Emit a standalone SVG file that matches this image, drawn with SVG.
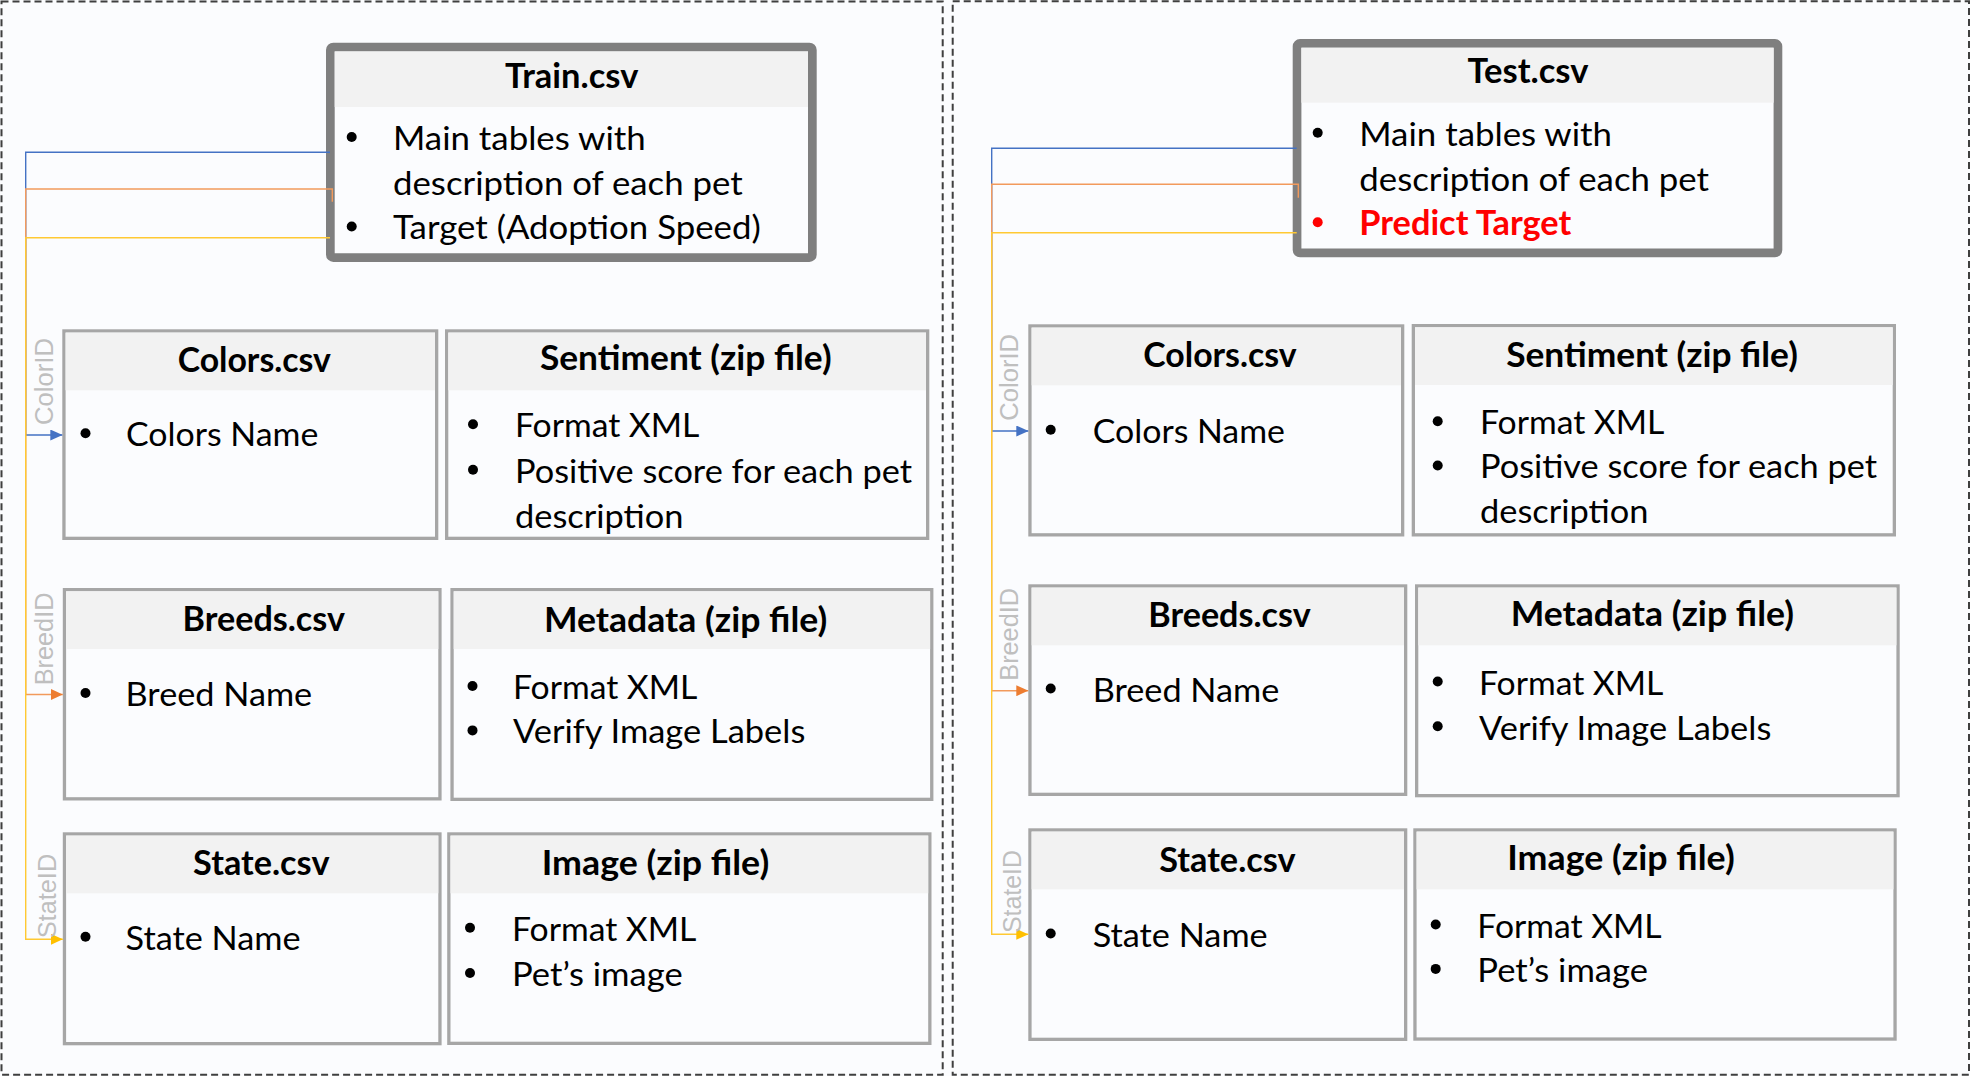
<svg xmlns="http://www.w3.org/2000/svg" width="1970" height="1076" viewBox="0 0 1970 1076">
<style>
.bg{fill:#FBFCFE}
.panel{fill:none;stroke:#3F3F3F;stroke-width:2;stroke-dasharray:7 4}
.main{fill:#FBFCFE;stroke:#7F7F7F;stroke-width:8.7}
.box{fill:#FBFCFE;stroke:#A6A6A6;stroke-width:3.3}
.hdr{fill:#F2F2F2}
.ttl{font-family:Lato,"Liberation Sans",sans-serif;font-size:33.5px;font-weight:bold;fill:#000;text-anchor:middle}
.txt{font-family:Lato,"Liberation Sans",sans-serif;font-size:33.5px;fill:#000}
.red{fill:#FF0000;font-weight:bold}
.blt{fill:#000}
.bltr{fill:#FF0000}
.lbl{font-family:"Liberation Sans",Arial,sans-serif;font-size:26.5px;fill:#BFBFBF}
.cb{fill:none;stroke:#4472C4;stroke-width:1.4}
.co{fill:none;stroke:#F29A5C;stroke-width:1.4}
.cy{fill:none;stroke:#FFC933;stroke-width:1.4}
</style>
<defs>
<marker id="ab" markerUnits="userSpaceOnUse" markerWidth="12" markerHeight="11" refX="12" refY="5.5" orient="auto"><path d="M0,0 L12,5.5 L0,11 z" fill="#4472C4"/></marker>
<marker id="ao" markerUnits="userSpaceOnUse" markerWidth="12" markerHeight="11" refX="12" refY="5.5" orient="auto"><path d="M0,0 L12,5.5 L0,11 z" fill="#ED7D31"/></marker>
<marker id="ay" markerUnits="userSpaceOnUse" markerWidth="12" markerHeight="11" refX="12" refY="5.5" orient="auto"><path d="M0,0 L12,5.5 L0,11 z" fill="#FFC000"/></marker>
</defs>
<rect class="bg" x="0" y="0" width="1970" height="1076"/>
<g id="panels">
<rect id="panel-train" class="panel" x="1.5" y="1.5" width="941.2" height="1073.2"/>
<rect id="panel-test" class="panel" x="952.7" y="1.2" width="1016.3" height="1073.5"/>
</g>
<g id="train">
<rect class="main" x="330.35" y="47.05" width="482" height="210.6" rx="3"/>
<rect class="hdr" x="334.7" y="51.4" width="473.3" height="55.6"/>
<text class="ttl" x="571.7" y="88" textLength="133.3" lengthAdjust="spacingAndGlyphs">Train.csv</text>
<circle class="blt" cx="351.7" cy="137" r="5"/>
<circle class="blt" cx="351.7" cy="226.5" r="5"/>
<text class="txt" x="393" y="150" textLength="252.7" lengthAdjust="spacingAndGlyphs">Main tables with</text>
<text class="txt" x="393" y="194.5" textLength="349.7" lengthAdjust="spacingAndGlyphs">description of each pet</text>
<text class="txt" x="393" y="239" textLength="367.7" lengthAdjust="spacingAndGlyphs">Target (Adoption Speed)</text>
</g>
<g id="colors-train">
<rect class="box" x="63.95" y="330.95" width="372.7" height="207.4"/>
<rect class="hdr" x="65.6" y="332.6" width="369.4" height="57.7"/>
<text class="ttl" x="254.3" y="371.5" textLength="153.3" lengthAdjust="spacingAndGlyphs">Colors.csv</text>
<circle class="blt" cx="85.5" cy="433.3" r="5"/>
<text class="txt" x="126" y="446" textLength="192.3" lengthAdjust="spacingAndGlyphs">Colors Name</text>
</g>
<g id="sentiment-train">
<rect class="box" x="446.65" y="330.95" width="481" height="207.4"/>
<rect class="hdr" x="448.3" y="332.6" width="477.7" height="57.7"/>
<text class="ttl" x="685.8" y="370.3" textLength="291.7" lengthAdjust="spacingAndGlyphs">Sentiment (zip file)</text>
<circle class="blt" cx="473" cy="424.3" r="5"/>
<circle class="blt" cx="473" cy="469.7" r="5"/>
<text class="txt" x="515" y="437.3" textLength="184.3" lengthAdjust="spacingAndGlyphs">Format XML</text>
<text class="txt" x="515" y="482.7" textLength="397" lengthAdjust="spacingAndGlyphs">Positive score for each pet</text>
<text class="txt" x="515" y="528" textLength="168.5" lengthAdjust="spacingAndGlyphs">description</text>
</g>
<g id="breeds-train">
<rect class="box" x="64.45" y="589.65" width="375.5" height="209.2"/>
<rect class="hdr" x="66.1" y="591.3" width="372.2" height="57.7"/>
<text class="ttl" x="263.8" y="630.6" textLength="162.4" lengthAdjust="spacingAndGlyphs">Breeds.csv</text>
<circle class="blt" cx="85.5" cy="693" r="5"/>
<text class="txt" x="125.6" y="705.8" textLength="186.6" lengthAdjust="spacingAndGlyphs">Breed Name</text>
</g>
<g id="metadata-train">
<rect class="box" x="452.05" y="589.65" width="479.7" height="209.7"/>
<rect class="hdr" x="453.7" y="591.3" width="476.4" height="57.7"/>
<text class="ttl" x="685.6" y="631.5" textLength="283.3" lengthAdjust="spacingAndGlyphs">Metadata (zip file)</text>
<circle class="blt" cx="472.5" cy="686" r="5"/>
<circle class="blt" cx="472.5" cy="730.4" r="5"/>
<text class="txt" x="513" y="699" textLength="184.3" lengthAdjust="spacingAndGlyphs">Format XML</text>
<text class="txt" x="513" y="743.4" textLength="292.3" lengthAdjust="spacingAndGlyphs">Verify Image Labels</text>
</g>
<g id="state-train">
<rect class="box" x="64.45" y="833.95" width="375.5" height="209.7"/>
<rect class="hdr" x="66.1" y="835.6" width="372.2" height="57.7"/>
<text class="ttl" x="261.3" y="875" textLength="136.4" lengthAdjust="spacingAndGlyphs">State.csv</text>
<circle class="blt" cx="85.5" cy="936.8" r="5"/>
<text class="txt" x="125.6" y="949.6" textLength="175" lengthAdjust="spacingAndGlyphs">State Name</text>
</g>
<g id="image-train">
<rect class="box" x="448.85" y="833.95" width="481" height="209.4"/>
<rect class="hdr" x="450.5" y="835.6" width="477.7" height="57.7"/>
<text class="ttl" x="655.5" y="875" textLength="227.4" lengthAdjust="spacingAndGlyphs">Image (zip file)</text>
<circle class="blt" cx="470" cy="927.7" r="5"/>
<circle class="blt" cx="470" cy="973" r="5"/>
<text class="txt" x="512" y="940.7" textLength="184.3" lengthAdjust="spacingAndGlyphs">Format XML</text>
<text class="txt" x="512" y="986" textLength="170.7" lengthAdjust="spacingAndGlyphs">Pet’s image</text>
</g>
<g id="test">
<rect class="main" x="1297.05" y="43.35" width="480.9" height="209.6" rx="3"/>
<rect class="hdr" x="1301.4" y="47.7" width="472.2" height="55"/>
<text class="ttl" x="1528" y="83.3" textLength="121" lengthAdjust="spacingAndGlyphs">Test.csv</text>
<circle class="blt" cx="1317.7" cy="132.7" r="5"/>
<circle class="bltr" cx="1317.7" cy="222.2" r="5"/>
<text class="txt" x="1359.3" y="145.7" textLength="252.7" lengthAdjust="spacingAndGlyphs">Main tables with</text>
<text class="txt" x="1359.3" y="191" textLength="349.7" lengthAdjust="spacingAndGlyphs">description of each pet</text>
<text class="txt red" x="1359.3" y="235" textLength="212" lengthAdjust="spacingAndGlyphs">Predict Target</text>
</g>
<g id="colors-test">
<rect class="box" x="1029.95" y="325.95" width="372.7" height="208.9"/>
<rect class="hdr" x="1031.6" y="327.6" width="369.4" height="57.7"/>
<text class="ttl" x="1220" y="366.7" textLength="153.3" lengthAdjust="spacingAndGlyphs">Colors.csv</text>
<circle class="blt" cx="1050.7" cy="429.7" r="5"/>
<text class="txt" x="1092.7" y="442.7" textLength="192.3" lengthAdjust="spacingAndGlyphs">Colors Name</text>
</g>
<g id="sentiment-test">
<rect class="box" x="1413.35" y="325.65" width="481" height="209.2"/>
<rect class="hdr" x="1415" y="327.3" width="477.7" height="57.7"/>
<text class="ttl" x="1652" y="366.7" textLength="291.7" lengthAdjust="spacingAndGlyphs">Sentiment (zip file)</text>
<circle class="blt" cx="1437.7" cy="421.3" r="5"/>
<circle class="blt" cx="1437.7" cy="465.5" r="5"/>
<text class="txt" x="1480" y="434.3" textLength="184.3" lengthAdjust="spacingAndGlyphs">Format XML</text>
<text class="txt" x="1480" y="478.3" textLength="397" lengthAdjust="spacingAndGlyphs">Positive score for each pet</text>
<text class="txt" x="1480" y="523" textLength="168.5" lengthAdjust="spacingAndGlyphs">description</text>
</g>
<g id="breeds-test">
<rect class="box" x="1029.95" y="585.95" width="375.7" height="208.4"/>
<rect class="hdr" x="1031.6" y="587.6" width="372.4" height="57.7"/>
<text class="ttl" x="1229.5" y="626.7" textLength="162.4" lengthAdjust="spacingAndGlyphs">Breeds.csv</text>
<circle class="blt" cx="1050.7" cy="688.5" r="5"/>
<text class="txt" x="1092.7" y="701.7" textLength="186.6" lengthAdjust="spacingAndGlyphs">Breed Name</text>
</g>
<g id="metadata-test">
<rect class="box" x="1416.65" y="585.95" width="481.4" height="209.7"/>
<rect class="hdr" x="1418.3" y="587.6" width="478.1" height="57.7"/>
<text class="ttl" x="1652.3" y="626" textLength="283.3" lengthAdjust="spacingAndGlyphs">Metadata (zip file)</text>
<circle class="blt" cx="1437.7" cy="681.5" r="5"/>
<circle class="blt" cx="1437.7" cy="726.3" r="5"/>
<text class="txt" x="1479" y="695" textLength="184.3" lengthAdjust="spacingAndGlyphs">Format XML</text>
<text class="txt" x="1479" y="740" textLength="292.3" lengthAdjust="spacingAndGlyphs">Verify Image Labels</text>
</g>
<g id="state-test">
<rect class="box" x="1029.95" y="829.95" width="375.7" height="209.4"/>
<rect class="hdr" x="1031.6" y="831.6" width="372.4" height="57.7"/>
<text class="ttl" x="1227.5" y="871.7" textLength="136.4" lengthAdjust="spacingAndGlyphs">State.csv</text>
<circle class="blt" cx="1050.7" cy="933.5" r="5"/>
<text class="txt" x="1092.7" y="946.7" textLength="175" lengthAdjust="spacingAndGlyphs">State Name</text>
</g>
<g id="image-test">
<rect class="box" x="1414.95" y="829.95" width="480.1" height="209.1"/>
<rect class="hdr" x="1416.6" y="831.6" width="476.8" height="57.7"/>
<text class="ttl" x="1621" y="870" textLength="227.4" lengthAdjust="spacingAndGlyphs">Image (zip file)</text>
<circle class="blt" cx="1435.7" cy="924.5" r="5"/>
<circle class="blt" cx="1435.7" cy="968.9" r="5"/>
<text class="txt" x="1477.3" y="937.7" textLength="184.3" lengthAdjust="spacingAndGlyphs">Format XML</text>
<text class="txt" x="1477.3" y="981.7" textLength="170.7" lengthAdjust="spacingAndGlyphs">Pet’s image</text>
</g>
<g id="connectors">
<path class="cb" d="M330,152.3 H25.7 V435 H62.3" marker-end="url(#ab)"/>
<path class="co" d="M332.3,201.7 V189 H25.7 V694.5 H62.8" marker-end="url(#ao)"/>
<path class="cy" d="M330,237.7 H25.7 V939.3 H62.8" marker-end="url(#ay)"/>
<text class="lbl" transform="translate(52.7,425) rotate(-90)" textLength="87" lengthAdjust="spacingAndGlyphs">ColorID</text>
<text class="lbl" transform="translate(53,685.3) rotate(-90)" textLength="92.7" lengthAdjust="spacingAndGlyphs">BreedID</text>
<text class="lbl" transform="translate(56,938.3) rotate(-90)" textLength="84.5" lengthAdjust="spacingAndGlyphs">StateID</text>
<path class="cb" d="M1296.7,148.3 H991.7 V431 H1028.3" marker-end="url(#ab)"/>
<path class="co" d="M1298.3,197.7 V184.3 H991.7 V690.7 H1028.3" marker-end="url(#ao)"/>
<path class="cy" d="M1296.7,232.7 H991.7 V934.3 H1028.3" marker-end="url(#ay)"/>
<text class="lbl" transform="translate(1017.7,420.7) rotate(-90)" textLength="86.7" lengthAdjust="spacingAndGlyphs">ColorID</text>
<text class="lbl" transform="translate(1017.7,680.7) rotate(-90)" textLength="92.7" lengthAdjust="spacingAndGlyphs">BreedID</text>
<text class="lbl" transform="translate(1021,933) rotate(-90)" textLength="83" lengthAdjust="spacingAndGlyphs">StateID</text>
</g>
</svg>
